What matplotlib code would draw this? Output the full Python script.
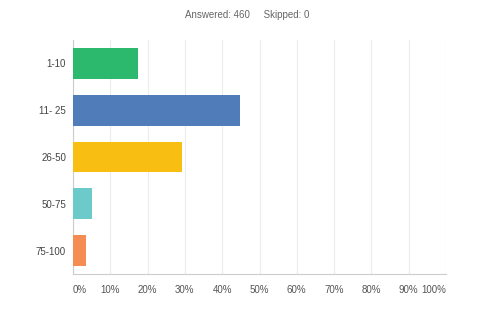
import matplotlib
matplotlib.use("Agg")
import matplotlib.pyplot as plt

categories = ["1-10", "11- 25", "26-50", "50-75", "75-100"]
values = [17.39, 44.78, 29.13, 5.22, 3.48]
colors = ["#2DB96D", "#507DBA", "#F9BE12", "#6CCACB", "#F48C54"]
xticks = [0, 10, 20, 30, 40, 50, 60, 70, 80, 90, 100]
xticklabels = ["0%", "10%", "20%", "30%", "40%", "50%", "60%", "70%", "80%", "90%", "100%"]

plt.rcParams['font.family'] = ['Liberation Sans', 'DejaVu Sans']

fig = plt.figure(figsize=(4.94, 3.13), dpi=100)
ax = fig.add_axes([73/494, 39/313, (446-73)/494, (274-40)/313])

y = list(range(len(categories)))
ax.barh(y, values, height=0.66, color=colors, zorder=3)
ax.set_ylim(len(categories) - 0.5, -0.5)
ax.set_xlim(0, 100)
ax.set_yticks(y)
ax.set_yticklabels(categories, fontsize=7, color="#444444")
ax.set_xticks(xticks)
ax.set_xticklabels(xticklabels, fontsize=7, color="#555555")
ax.tick_params(axis='y', length=0, pad=5)
ax.tick_params(axis='x', length=0, pad=8)
labels = ax.get_xticklabels()
labels[0].set_ha("left")
labels[-1].set_ha("right")
labels[-1].set_x(100)
ax.grid(axis='x', color="#ececec", linewidth=0.8, zorder=0)
for s in ["top", "right"]:
    ax.spines[s].set_visible(False)
for s in ["left", "bottom"]:
    ax.spines[s].set_color("#cccccc")
    ax.spines[s].set_linewidth(0.8)

fig.text(247/494, 1 - 15/313, "Answered: 460     Skipped: 0", ha="center", va="center",
         fontsize=7, color="#666666")

fig.savefig("out.png", dpi=100)
